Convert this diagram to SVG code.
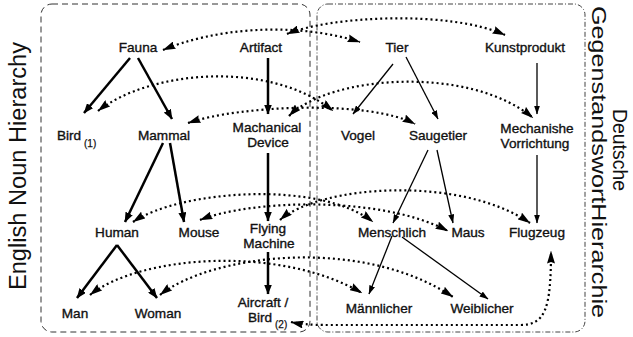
<svg xmlns="http://www.w3.org/2000/svg" width="633" height="337" viewBox="0 0 633 337">
<style>
.lbl{font-family:"Liberation Sans",Arial,Helvetica,sans-serif;font-size:13.6px;fill:#111;stroke:#111;stroke-width:0.35;text-anchor:middle}
.sub{font-family:"Liberation Sans",Arial,Helvetica,sans-serif;font-size:10px;fill:#111;stroke:#111;stroke-width:0.25}
.ttl{font-family:"Liberation Sans",Arial,Helvetica,sans-serif;fill:#111;text-anchor:middle}
.thick{stroke:#000;stroke-width:2.5;fill:none;marker-end:url(#ah)}
.thin{stroke:#000;stroke-width:1.3;fill:none;marker-end:url(#ah2)}
.dot{stroke:#000;stroke-width:2.2;stroke-dasharray:2 3;fill:none;marker-start:url(#ad);marker-end:url(#ad)}
.boxL{fill:none;stroke:#333;stroke-width:1;stroke-dasharray:6 4}
.boxR{fill:none;stroke:#444;stroke-width:1;stroke-dasharray:5 2 1 2}
</style>
<defs>
<marker id="ah" markerUnits="userSpaceOnUse" markerWidth="10" markerHeight="8" viewBox="0 0 10 8" refX="9.5" refY="4" orient="auto"><path d="M0,0 L10,4 L0,8 z" fill="#000"/></marker>
<marker id="ah2" markerUnits="userSpaceOnUse" markerWidth="9" markerHeight="6" viewBox="0 0 9 6" refX="8.5" refY="3" orient="auto"><path d="M0,0 L9,3 L0,6 z" fill="#000"/></marker>
<marker id="ad" markerUnits="userSpaceOnUse" markerWidth="13" markerHeight="8" viewBox="0 0 13 8" refX="12.5" refY="4" orient="auto-start-reverse"><path d="M0,0 L13,4 L0,8 L1.5,4 z" fill="#000"/></marker>
</defs>

<g id="frames">
<rect class="boxL" x="41" y="4" width="269" height="328" rx="11"/>
<rect class="boxR" x="317" y="4" width="268" height="328" rx="11"/>
</g>

<g id="titles">
<text class="ttl" font-size="23" transform="translate(26,166) rotate(-90)" textLength="248" lengthAdjust="spacingAndGlyphs">English Noun Hierarchy</text>
<text class="ttl" font-size="21" transform="translate(613,150) rotate(90)" textLength="82" lengthAdjust="spacingAndGlyphs">Deutsche</text>
<text class="ttl" font-size="21" transform="translate(592,162) rotate(90)" textLength="312" lengthAdjust="spacingAndGlyphs">GegenstandswortHierarchie</text>
</g>

<g id="connectors">
<path class="thick" d="M130,58 L84,113"/>
<path class="thick" d="M138,58 L172,119"/>
<path class="thick" d="M268,58 L268,114"/>
<path class="thick" d="M163,143 L125,222"/>
<path class="thick" d="M170,143 L184,222"/>
<path class="thick" d="M268,153 L268,221"/>
<path class="thick" d="M117,245 L77,298"/>
<path class="thick" d="M117,245 L157,298"/>
<path class="thick" d="M268,252 L268,294"/>

<path class="thin" d="M393,64 L353,114"/>
<path class="thin" d="M406,57 L438,119"/>
<path class="thin" d="M537,63 L537,114"/>
<path class="thin" d="M428,150 L393,223"/>
<path class="thin" d="M437,150 L453,223"/>
<path class="thin" d="M537,155 L537,223"/>
<path class="thin" d="M392,236 L369,294"/>
<path class="thin" d="M402,237 L488,299"/>

<path class="dot" d="M163,50 C210,30 290,20 360,42"/>
<path class="dot" d="M287,34 C330,16 450,10 505,35"/>
<path class="dot" d="M98,111 C150,70 270,60 333,111"/>
<path class="dot" d="M188,123 C240,105 370,100 415,124"/>
<path class="dot" d="M289,116 C330,75 470,65 533,118"/>
<path class="dot" d="M133,222 C180,190 320,180 373,222"/>
<path class="dot" d="M200,220 C250,200 380,195 448,231"/>
<path class="dot" d="M280,220 C320,185 460,175 530,223"/>
<path class="dot" d="M90,295 C140,255 280,245 362,293"/>
<path class="dot" d="M160,295 C210,255 360,235 453,297"/>
<path class="dot" d="M291,322 C300,324 310,325 330,325 L520,325 C545,325 551,310 551,251"/>
</g>

<g id="n-fauna"><text class="lbl" x="138" y="52">Fauna</text></g>
<g id="n-artifact"><text class="lbl" x="261" y="52">Artifact</text></g>
<g id="n-bird1"><text class="lbl" x="57" y="140" style="text-anchor:start">Bird</text><text class="sub" x="84" y="147">(1)</text></g>
<g id="n-mammal"><text class="lbl" x="164" y="140">Mammal</text></g>
<g id="n-mechdevice"><text class="lbl" x="267" y="132">Machanical</text><text class="lbl" x="268" y="147">Device</text></g>
<g id="n-human"><text class="lbl" x="117" y="237">Human</text></g>
<g id="n-mouse"><text class="lbl" x="199" y="237">Mouse</text></g>
<g id="n-flying"><text class="lbl" x="268" y="233">Flying</text><text class="lbl" x="269" y="248">Machine</text></g>
<g id="n-man"><text class="lbl" x="75" y="318">Man</text></g>
<g id="n-woman"><text class="lbl" x="158" y="318">Woman</text></g>
<g id="n-aircraft"><text class="lbl" x="263" y="307">Aircraft /</text><text class="lbl" x="248" y="322" style="text-anchor:start">Bird</text><text class="sub" x="275" y="328">(2)</text></g>

<g id="n-tier"><text class="lbl" x="397" y="52">Tier</text></g>
<g id="n-kunstprodukt"><text class="lbl" x="525" y="52">Kunstprodukt</text></g>
<g id="n-vogel"><text class="lbl" x="358" y="140">Vogel</text></g>
<g id="n-saugetier"><text class="lbl" x="438" y="140">Saugetier</text></g>
<g id="n-mechanishe"><text class="lbl" x="537" y="133">Mechanishe</text><text class="lbl" x="535" y="148">Vorrichtung</text></g>
<g id="n-menschlich"><text class="lbl" x="392" y="237">Menschlich</text></g>
<g id="n-maus"><text class="lbl" x="468" y="237">Maus</text></g>
<g id="n-flugzeug"><text class="lbl" x="537" y="237">Flugzeug</text></g>
<g id="n-maennlicher"><text class="lbl" x="379" y="313">Männlicher</text></g>
<g id="n-weiblicher"><text class="lbl" x="482" y="313">Weiblicher</text></g>
</svg>
